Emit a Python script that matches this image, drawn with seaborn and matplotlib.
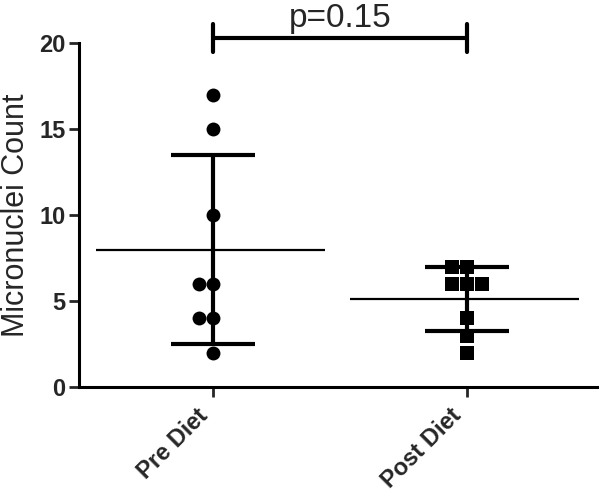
import numpy as np
import pandas as pd
import matplotlib
matplotlib.use('Agg')
import matplotlib.pyplot as plt
import matplotlib.transforms as mtransforms
import seaborn as sns

groups = ['Pre Diet', 'Post Diet']
pre_diet = [17, 15, 10, 6, 6, 4, 4, 2]
post_diet = [7, 7, 6, 6, 6, 4, 3, 2]
p_label = 'p=0.15'

df = pd.DataFrame({
    'group': ['Pre Diet'] * len(pre_diet) + ['Post Diet'] * len(post_diet),
    'count': pre_diet + post_diet,
})

sns.set_style('ticks')
plt.rcParams['font.family'] = ['Liberation Sans', 'DejaVu Sans']

fig = plt.figure(figsize=(6, 4.99), dpi=100)
ax = fig.add_axes([0.132, 0.224, 0.863, 0.690])

sns.swarmplot(data=df[df['group'] == 'Pre Diet'], x='group', y='count', order=groups,
              color='black', marker='o', size=10, ax=ax, zorder=3)
sns.swarmplot(data=df[df['group'] == 'Post Diet'], x='group', y='count', order=groups,
              color='black', marker='s', size=10, ax=ax, zorder=3)

# mean line + SD error bars
for i, vals in enumerate([pre_diet, post_diet]):
    m = np.mean(vals)
    sd = np.std(vals, ddof=1)
    ax.hlines(m, i - 0.46, i + 0.44, color='black', lw=1.6, zorder=2)
    ax.errorbar(i, m, yerr=sd, fmt='none', ecolor='black', elinewidth=3,
                capsize=30, capthick=3, zorder=2)

# significance bracket
yb = 20.3
ax.plot([0, 1], [yb, yb], color='black', lw=3, clip_on=False)
ax.plot([0, 0], [yb - 0.8, yb + 0.8], color='black', lw=3, clip_on=False)
ax.plot([1, 1], [yb - 0.8, yb + 0.8], color='black', lw=3, clip_on=False)
ax.text(0.5, yb + 0.62, p_label, ha='center', va='baseline', fontsize=24)

ax.set_xlim(-0.528, 1.512)
ax.set_ylim(0, 20)
ax.set_yticks([0, 5, 10, 15, 20])
ax.set_xlabel('')
ax.set_ylabel('Micronuclei Count', fontsize=22, labelpad=6)
ax.tick_params(axis='y', labelsize=17, width=2, length=7, pad=3)
ax.tick_params(axis='x', width=2, length=7, pad=11)
shift = mtransforms.ScaledTranslation(-0.09, 0, fig.dpi_scale_trans)
for lab in ax.get_yticklabels():
    lab.set_fontweight('bold')
for lab in ax.get_xticklabels():
    lab.set_rotation(45)
    lab.set_ha('right')
    lab.set_va('center')
    lab.set_rotation_mode('anchor')
    lab.set_fontsize(17)
    lab.set_fontweight('bold')
    lab.set_transform(lab.get_transform() + shift)

sns.despine(ax=ax)
for s in ['left', 'bottom']:
    ax.spines[s].set_linewidth(2.2)
    ax.spines[s].set_color('black')

fig.savefig('out.png', dpi=100)
